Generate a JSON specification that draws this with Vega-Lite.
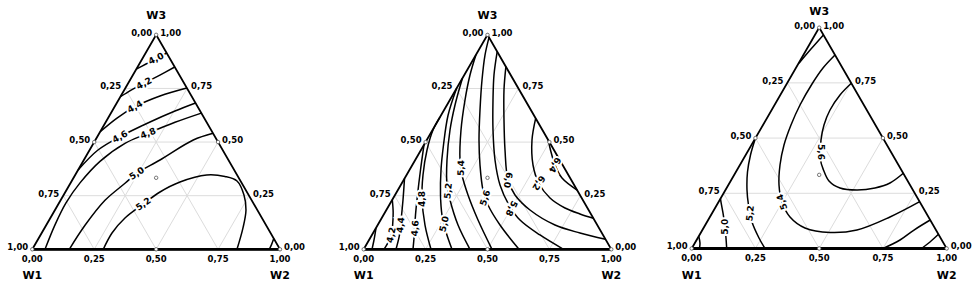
{
  "$schema": "https://vega.github.io/schema/vega-lite/v6.json",
  "padding": 0,
  "spacing": 0,
  "background": "white",
  "config": {"view": {"stroke": null}, "font": "DejaVu Sans", "text": {"font": "DejaVu Sans"}},
  "datasets": {
    "frame": [{"o":0,"x":0,"y":0},{"o":1,"x":1,"y":0},{"o":2,"x":0.5,"y":0.866},{"o":3,"x":0,"y":0}],
    "base": [{"x":0,"y":0},{"x":1,"y":0}],
    "grid": [
      {"g":1,"x":0.125,"y":0.2165},{"g":1,"x":0.875,"y":0.2165},
      {"g":2,"x":0.25,"y":0.433},{"g":2,"x":0.75,"y":0.433},
      {"g":3,"x":0.375,"y":0.6495},{"g":3,"x":0.625,"y":0.6495},
      {"g":4,"x":0.25,"y":0},{"g":4,"x":0.625,"y":0.6495},
      {"g":5,"x":0.5,"y":0},{"g":5,"x":0.75,"y":0.433},
      {"g":6,"x":0.75,"y":0},{"g":6,"x":0.875,"y":0.2165},
      {"g":7,"x":0.75,"y":0},{"g":7,"x":0.375,"y":0.6495},
      {"g":8,"x":0.5,"y":0},{"g":8,"x":0.25,"y":0.433},
      {"g":9,"x":0.25,"y":0},{"g":9,"x":0.125,"y":0.2165}
    ],
    "pts": [{"x":0,"y":0},{"x":1,"y":0},{"x":0.5,"y":0.866},{"x":0.5,"y":0},{"x":0.25,"y":0.433},{"x":0.75,"y":0.433},{"x":0.5,"y":0.2887}],
    "tb": [{"x":0,"y":0,"t":"0,00"},{"x":0.25,"y":0,"t":"0,25"},{"x":0.5,"y":0,"t":"0,50"},{"x":0.75,"y":0,"t":"0,75"},{"x":1,"y":0,"t":"1,00"}],
    "tl": [{"x":0,"y":0,"t":"1,00"},{"x":0.125,"y":0.2165,"t":"0,75"},{"x":0.25,"y":0.433,"t":"0,50"},{"x":0.375,"y":0.6495,"t":"0,25"},{"x":0.5,"y":0.866,"t":"0,00"}],
    "tr": [{"x":1,"y":0,"t":"0,00"},{"x":0.875,"y":0.2165,"t":"0,25"},{"x":0.75,"y":0.433,"t":"0,50"},{"x":0.625,"y":0.6495,"t":"0,75"},{"x":0.5,"y":0.866,"t":"1,00"}],
    "wb": [{"x":0,"y":0,"t":"W1"},{"x":1,"y":0,"t":"W2"}],
    "wt": [{"x":0.5,"y":0.866,"t":"W3"}],
    "c1": [
      {"c":"4,0","o":0,"x":0.4197,"y":0.7271},{"c":"4,0","o":1,"x":0.459,"y":0.748},{"c":"4,0","o":2,"x":0.4994,"y":0.7703},{"c":"4,0","o":3,"x":0.5425,"y":0.7924},
      {"c":"4,2","o":0,"x":0.3557,"y":0.6161},{"c":"4,2","o":1,"x":0.4025,"y":0.645},{"c":"4,2","o":2,"x":0.4509,"y":0.67},{"c":"4,2","o":3,"x":0.5151,"y":0.7035},{"c":"4,2","o":4,"x":0.575,"y":0.736},
      {"c":"4,4","o":0,"x":0.2741,"y":0.4748},{"c":"4,4","o":1,"x":0.342,"y":0.53},{"c":"4,4","o":2,"x":0.4146,"y":0.5757},{"c":"4,4","o":3,"x":0.5155,"y":0.6189},{"c":"4,4","o":4,"x":0.624,"y":0.6512},
      {"c":"4,6","o":0,"x":0.1849,"y":0.3201},{"c":"4,6","o":1,"x":0.2652,"y":0.4008},{"c":"4,6","o":2,"x":0.3541,"y":0.4546},{"c":"4,6","o":3,"x":0.4752,"y":0.5139},{"c":"4,6","o":4,"x":0.5761,"y":0.5583},{"c":"4,6","o":5,"x":0.659,"y":0.5906},
      {"c":"4,8","o":0,"x":0.0513,"y":0},{"c":"4,8","o":1,"x":0.0916,"y":0.0985},{"c":"4,8","o":2,"x":0.136,"y":0.1873},{"c":"4,8","o":3,"x":0.1926,"y":0.2681},{"c":"4,8","o":4,"x":0.2733,"y":0.3552},{"c":"4,8","o":5,"x":0.3742,"y":0.4279},{"c":"4,8","o":6,"x":0.4671,"y":0.4683},{"c":"4,8","o":7,"x":0.5761,"y":0.5127},{"c":"4,8","o":8,"x":0.6825,"y":0.5499},
      {"c":"5,0","o":0,"x":0.1494,"y":0},{"c":"5,0","o":1,"x":0.2128,"y":0.0969},{"c":"5,0","o":2,"x":0.2935,"y":0.1978},{"c":"5,0","o":3,"x":0.3743,"y":0.2665},{"c":"5,0","o":4,"x":0.4215,"y":0.3068},{"c":"5,0","o":5,"x":0.5155,"y":0.3605},{"c":"5,0","o":6,"x":0.6499,"y":0.4412},{"c":"5,0","o":7,"x":0.7296,"y":0.4683},
      {"c":"5,2","o":0,"x":0.2866,"y":0},{"c":"5,2","o":1,"x":0.3218,"y":0.0658},{"c":"5,2","o":2,"x":0.3742,"y":0.1264},{"c":"5,2","o":3,"x":0.4481,"y":0.1829},{"c":"5,2","o":4,"x":0.5155,"y":0.2314},{"c":"5,2","o":5,"x":0.5963,"y":0.2717},{"c":"5,2","o":6,"x":0.7041,"y":0.2999},{"c":"5,2","o":7,"x":0.7779,"y":0.2939},{"c":"5,2","o":8,"x":0.8264,"y":0.2757},{"c":"5,2","o":9,"x":0.8546,"y":0.2192},{"c":"5,2","o":10,"x":0.8627,"y":0.1587},{"c":"5,2","o":11,"x":0.8506,"y":0.0864},{"c":"5,2","o":12,"x":0.8264,"y":0},
      {"c":"5,2b","o":0,"x":0.9568,"y":0},{"c":"5,2b","o":1,"x":0.9662,"y":0.02},{"c":"5,2b","o":2,"x":0.9749,"y":0.0434}
    ],
    "l1": [
      {"t":"4,0","x":0.4994,"y":0.7703,"a":-27},
      {"t":"4,2","x":0.4509,"y":0.67,"a":-28},
      {"t":"4,4","x":0.4146,"y":0.5757,"a":-30},
      {"t":"4,6","x":0.3541,"y":0.4546,"a":-30},
      {"t":"4,8","x":0.4671,"y":0.4683,"a":-22},
      {"t":"5,0","x":0.4215,"y":0.3068,"a":-33},
      {"t":"5,2","x":0.4481,"y":0.1829,"a":-35}
    ],
    "c2": [
      {"c":"4,0","o":0,"x":0.0335,"y":0},{"c":"4,0","o":1,"x":0.0416,"y":0.0376},{"c":"4,0","o":2,"x":0.0497,"y":0.086},
      {"c":"4,2","o":0,"x":0.082,"y":0},{"c":"4,2","o":1,"x":0.1,"y":0.03},{"c":"4,2","o":2,"x":0.1115,"y":0.0578},{"c":"4,2","o":3,"x":0.117,"y":0.1},{"c":"4,2","o":4,"x":0.119,"y":0.15},{"c":"4,2","o":5,"x":0.1155,"y":0.2},
      {"c":"4,4","o":0,"x":0.1305,"y":0},{"c":"4,4","o":1,"x":0.1446,"y":0.0578},{"c":"4,4","o":2,"x":0.1506,"y":0.1143},{"c":"4,4","o":3,"x":0.1587,"y":0.1991},{"c":"4,4","o":4,"x":0.1648,"y":0.2855},
      {"c":"4,6","o":0,"x":0.1991,"y":0},{"c":"4,6","o":1,"x":0.2052,"y":0.0699},{"c":"4,6","o":2,"x":0.2092,"y":0.1385},{"c":"4,6","o":3,"x":0.2173,"y":0.2193},{"c":"4,6","o":4,"x":0.2294,"y":0.3203},{"c":"4,6","o":5,"x":0.2435,"y":0.4216},
      {"c":"4,8","o":0,"x":0.2718,"y":0},{"c":"4,8","o":1,"x":0.2476,"y":0.0981},{"c":"4,8","o":2,"x":0.2355,"y":0.2031},{"c":"4,8","o":3,"x":0.2395,"y":0.3001},{"c":"4,8","o":4,"x":0.2557,"y":0.401},{"c":"4,8","o":5,"x":0.2799,"y":0.4818},{"c":"4,8","o":6,"x":0.3082,"y":0.5339},
      {"c":"5,0","o":0,"x":0.3566,"y":0},{"c":"5,0","o":1,"x":0.3324,"y":0.0699},{"c":"5,0","o":2,"x":0.3162,"y":0.1385},{"c":"5,0","o":3,"x":0.3102,"y":0.2193},{"c":"5,0","o":4,"x":0.3122,"y":0.3203},{"c":"5,0","o":5,"x":0.3223,"y":0.4213},{"c":"5,0","o":6,"x":0.3405,"y":0.5404},{"c":"5,0","o":7,"x":0.3749,"y":0.6494},
      {"c":"5,2","o":0,"x":0.4293,"y":0},{"c":"5,2","o":1,"x":0.3809,"y":0.0981},{"c":"5,2","o":2,"x":0.3486,"y":0.1991},{"c":"5,2","o":3,"x":0.3364,"y":0.2597},{"c":"5,2","o":4,"x":0.3364,"y":0.3607},{"c":"5,2","o":5,"x":0.3486,"y":0.4818},{"c":"5,2","o":6,"x":0.3688,"y":0.5828},{"c":"5,2","o":7,"x":0.3987,"y":0.6906},
      {"c":"5,4","o":0,"x":0.5182,"y":0},{"c":"5,4","o":1,"x":0.4617,"y":0.1183},{"c":"5,4","o":2,"x":0.4213,"y":0.2193},{"c":"5,4","o":3,"x":0.397,"y":0.3001},{"c":"5,4","o":4,"x":0.3889,"y":0.3607},{"c":"5,4","o":5,"x":0.393,"y":0.4818},{"c":"5,4","o":6,"x":0.4091,"y":0.603},{"c":"5,4","o":7,"x":0.4293,"y":0.704},{"c":"5,4","o":8,"x":0.4531,"y":0.7847},
      {"c":"5,6","o":0,"x":0.6272,"y":0},{"c":"5,6","o":1,"x":0.5505,"y":0.0981},{"c":"5,6","o":2,"x":0.502,"y":0.1789},{"c":"5,6","o":3,"x":0.4818,"y":0.2395},{"c":"5,6","o":4,"x":0.4697,"y":0.3405},{"c":"5,6","o":5,"x":0.4657,"y":0.4414},{"c":"5,6","o":6,"x":0.4697,"y":0.5626},{"c":"5,6","o":7,"x":0.4778,"y":0.6838},{"c":"5,6","o":8,"x":0.4899,"y":0.7847},{"c":"5,6","o":9,"x":0.506,"y":0.855},
      {"c":"5,8","o":0,"x":0.807,"y":0},{"c":"5,8","o":1,"x":0.712,"y":0.0578},{"c":"5,8","o":2,"x":0.6313,"y":0.1183},{"c":"5,8","o":3,"x":0.5868,"y":0.1789},{"c":"5,8","o":4,"x":0.5505,"y":0.2597},{"c":"5,8","o":5,"x":0.5303,"y":0.3607},{"c":"5,8","o":6,"x":0.5222,"y":0.4818},{"c":"5,8","o":7,"x":0.5222,"y":0.603},{"c":"5,8","o":8,"x":0.5262,"y":0.704},{"c":"5,8","o":9,"x":0.5392,"y":0.7981},
      {"c":"6,0","o":0,"x":0.9766,"y":0.0404},{"c":"6,0","o":1,"x":0.8736,"y":0.0658},{"c":"6,0","o":2,"x":0.7726,"y":0.0981},{"c":"6,0","o":3,"x":0.6716,"y":0.1587},{"c":"6,0","o":4,"x":0.6111,"y":0.2193},{"c":"6,0","o":5,"x":0.5828,"y":0.2799},{"c":"6,0","o":6,"x":0.5707,"y":0.401},{"c":"6,0","o":7,"x":0.5666,"y":0.5222},{"c":"6,0","o":8,"x":0.5666,"y":0.6434},{"c":"6,0","o":9,"x":0.5743,"y":0.7375},
      {"c":"6,2","o":0,"x":0.6945,"y":0.5291},{"c":"6,2","o":1,"x":0.6797,"y":0.4414},{"c":"6,2","o":2,"x":0.6838,"y":0.3405},{"c":"6,2","o":3,"x":0.7068,"y":0.2678},{"c":"6,2","o":4,"x":0.7524,"y":0.2072},{"c":"6,2","o":5,"x":0.813,"y":0.1668},{"c":"6,2","o":6,"x":0.8736,"y":0.1426},{"c":"6,2","o":7,"x":0.9277,"y":0.1252},
      {"c":"6,4","o":0,"x":0.7452,"y":0.4414},{"c":"6,4","o":1,"x":0.7565,"y":0.393},{"c":"6,4","o":2,"x":0.7726,"y":0.3405},{"c":"6,4","o":3,"x":0.8009,"y":0.288},{"c":"6,4","o":4,"x":0.8619,"y":0.2395}
    ],
    "l2": [
      {"t":"4,2","x":0.1115,"y":0.0578,"a":-78},
      {"t":"4,4","x":0.149,"y":0.0981,"a":-84},
      {"t":"4,6","x":0.2075,"y":0.0848,"a":-86},
      {"t":"4,8","x":0.2355,"y":0.2031,"a":-90},
      {"t":"5,0","x":0.325,"y":0.1022,"a":-77},
      {"t":"5,2","x":0.3413,"y":0.2355,"a":-84},
      {"t":"5,4","x":0.393,"y":0.3283,"a":-88},
      {"t":"5,6","x":0.4899,"y":0.2072,"a":-72},
      {"t":"5,8","x":0.597,"y":0.165,"a":115},
      {"t":"6,0","x":0.5828,"y":0.2799,"a":100},
      {"t":"6,2","x":0.7068,"y":0.2678,"a":122},
      {"t":"6,4","x":0.7726,"y":0.3405,"a":118}
    ],
    "c3": [
      {"c":"5,2a","o":0,"x":0.4208,"y":0.7267},{"c":"5,2a","o":1,"x":0.4686,"y":0.7829},{"c":"5,2a","o":2,"x":0.5165,"y":0.8373},
      {"c":"5,0","o":0,"x":0.1373,"y":0},{"c":"5,0","o":1,"x":0.1345,"y":0.0412},{"c":"5,0","o":2,"x":0.1306,"y":0.0855},{"c":"5,0","o":3,"x":0.1227,"y":0.1392},{"c":"5,0","o":4,"x":0.1169,"y":0.1706},{"c":"5,0","o":5,"x":0.1128,"y":0.1953},
      {"c":"4,8","o":0,"x":0.0306,"y":0},{"c":"4,8","o":1,"x":0.0325,"y":0.0216},{"c":"4,8","o":2,"x":0.0276,"y":0.0478},
      {"c":"5,2","o":0,"x":0.2875,"y":0},{"c":"5,2","o":1,"x":0.2639,"y":0.0412},{"c":"5,2","o":2,"x":0.2365,"y":0.1039},{"c":"5,2","o":3,"x":0.2227,"y":0.1706},{"c":"5,2","o":4,"x":0.2169,"y":0.2294},{"c":"5,2","o":5,"x":0.2188,"y":0.3},{"c":"5,2","o":6,"x":0.2306,"y":0.3667},{"c":"5,2","o":7,"x":0.2502,"y":0.4333},
      {"c":"5,4","o":0,"x":0.562,"y":0.7588},{"c":"5,4","o":1,"x":0.5149,"y":0.7078},{"c":"5,4","o":2,"x":0.4718,"y":0.6451},{"c":"5,4","o":3,"x":0.4247,"y":0.5627},{"c":"5,4","o":4,"x":0.3894,"y":0.4843},{"c":"5,4","o":5,"x":0.362,"y":0.4059},{"c":"5,4","o":6,"x":0.3463,"y":0.3275},{"c":"5,4","o":7,"x":0.3424,"y":0.249},{"c":"5,4","o":8,"x":0.3541,"y":0.1824},{"c":"5,4","o":9,"x":0.3855,"y":0.1235},{"c":"5,4","o":10,"x":0.4443,"y":0.0804},{"c":"5,4","o":11,"x":0.5424,"y":0.0627},{"c":"5,4","o":12,"x":0.6482,"y":0.0725},{"c":"5,4","o":13,"x":0.7776,"y":0.1235},{"c":"5,4","o":14,"x":0.8941,"y":0.1835},
      {"c":"5,6","o":0,"x":0.6259,"y":0.6478},{"c":"5,6","o":1,"x":0.5816,"y":0.602},{"c":"5,6","o":2,"x":0.5424,"y":0.5431},{"c":"5,6","o":3,"x":0.5188,"y":0.4843},{"c":"5,6","o":4,"x":0.5071,"y":0.4255},{"c":"5,6","o":5,"x":0.5051,"y":0.3471},{"c":"5,6","o":6,"x":0.5169,"y":0.3078},{"c":"5,6","o":7,"x":0.5384,"y":0.2647},{"c":"5,6","o":8,"x":0.5816,"y":0.2373},{"c":"5,6","o":9,"x":0.6482,"y":0.2294},{"c":"5,6","o":10,"x":0.7188,"y":0.2373},{"c":"5,6","o":11,"x":0.7776,"y":0.2569},{"c":"5,6","o":12,"x":0.8298,"y":0.2949},
      {"c":"5,2c","o":0,"x":0.7502,"y":0},{"c":"5,2c","o":1,"x":0.8169,"y":0.0333},{"c":"5,2c","o":2,"x":0.8718,"y":0.0725},{"c":"5,2c","o":3,"x":0.9353,"y":0.1118},
      {"c":"5,0c","o":0,"x":0.9012,"y":0},{"c":"5,0c","o":1,"x":0.9345,"y":0.0255},{"c":"5,0c","o":2,"x":0.9678,"y":0.0557}
    ],
    "l3": [
      {"t":"5,0","x":0.1306,"y":0.0855,"a":-90},
      {"t":"5,2","x":0.2286,"y":0.138,"a":-84},
      {"t":"5,4","x":0.3541,"y":0.1824,"a":-110},
      {"t":"5,6","x":0.506,"y":0.3784,"a":90}
    ]
  },
  "hconcat": [
    {
      "width": 330, "height": 291,
      "encoding": {
        "x": {"field": "x", "type": "quantitative", "axis": null, "scale": {"domain": [-0.1304, 1.2019], "nice": false, "zero": false}},
        "y": {"field": "y", "type": "quantitative", "axis": null, "scale": {"domain": [-0.1683, 1.0065], "nice": false, "zero": false}}
      },
      "layer": [
        {"data": {"name": "grid"}, "mark": {"type": "line", "color": "#dcdcdc", "strokeWidth": 1}, "encoding": {"detail": {"field": "g"}}},
        {"data": {"name": "c1"}, "mark": {"type": "line", "color": "black", "strokeWidth": 1.5, "interpolate": "catmull-rom"}, "encoding": {"detail": {"field": "c"}, "order": {"field": "o"}}},
        {"data": {"name": "frame"}, "mark": {"type": "line", "color": "black", "strokeWidth": 1.8}, "encoding": {"order": {"field": "o"}}},
        {"data": {"name": "base"}, "mark": {"type": "line", "color": "black", "strokeWidth": 2.8}, "encoding": {}},
        {"data": {"name": "pts"}, "mark": {"type": "point", "shape": "circle", "filled": true, "fill": "white", "stroke": "#555", "strokeWidth": 0.8, "size": 12, "opacity": 1}},
        {"data": {"name": "l1"}, "mark": {"type": "text", "fontSize": 9, "fontWeight": "bold", "stroke": "white", "strokeWidth": 4, "color": "white", "baseline": "middle"}, "encoding": {"text": {"field": "t"}, "angle": {"field": "a", "type": "quantitative", "scale": null}}},
        {"data": {"name": "l1"}, "mark": {"type": "text", "fontSize": 9, "fontWeight": "bold", "color": "black", "baseline": "middle"}, "encoding": {"text": {"field": "t"}, "angle": {"field": "a", "type": "quantitative", "scale": null}}},
        {"data": {"name": "tb"}, "mark": {"type": "text", "fontSize": 8.5, "fontWeight": "bold", "color": "black", "align": "center", "baseline": "middle", "dy": 10}, "encoding": {"text": {"field": "t"}}},
        {"data": {"name": "tl"}, "mark": {"type": "text", "fontSize": 8.5, "fontWeight": "bold", "color": "black", "align": "right", "baseline": "middle", "dx": -4, "dy": -2}, "encoding": {"text": {"field": "t"}}},
        {"data": {"name": "tr"}, "mark": {"type": "text", "fontSize": 8.5, "fontWeight": "bold", "color": "black", "align": "left", "baseline": "middle", "dx": 4, "dy": -2}, "encoding": {"text": {"field": "t"}}},
        {"data": {"name": "wb"}, "mark": {"type": "text", "fontSize": 11, "fontWeight": "bold", "color": "black", "align": "center", "baseline": "middle", "dy": 27}, "encoding": {"text": {"field": "t"}}},
        {"data": {"name": "wt"}, "mark": {"type": "text", "fontSize": 11, "fontWeight": "bold", "color": "black", "align": "center", "baseline": "middle", "dy": -19}, "encoding": {"text": {"field": "t"}}}
      ]
    },
    {
      "width": 325, "height": 291,
      "encoding": {
        "x": {"field": "x", "type": "quantitative", "axis": null, "scale": {"domain": [-0.1361, 1.1765], "nice": false, "zero": false}},
        "y": {"field": "y", "type": "quantitative", "axis": null, "scale": {"domain": [-0.1684, 1.0069], "nice": false, "zero": false}}
      },
      "layer": [
        {"data": {"name": "grid"}, "mark": {"type": "line", "color": "#dcdcdc", "strokeWidth": 1}, "encoding": {"detail": {"field": "g"}}},
        {"data": {"name": "c2"}, "mark": {"type": "line", "color": "black", "strokeWidth": 1.5, "interpolate": "catmull-rom"}, "encoding": {"detail": {"field": "c"}, "order": {"field": "o"}}},
        {"data": {"name": "frame"}, "mark": {"type": "line", "color": "black", "strokeWidth": 1.8}, "encoding": {"order": {"field": "o"}}},
        {"data": {"name": "base"}, "mark": {"type": "line", "color": "black", "strokeWidth": 2.8}, "encoding": {}},
        {"data": {"name": "pts"}, "mark": {"type": "point", "shape": "circle", "filled": true, "fill": "white", "stroke": "#555", "strokeWidth": 0.8, "size": 12, "opacity": 1}},
        {"data": {"name": "l2"}, "mark": {"type": "text", "fontSize": 9, "fontWeight": "bold", "stroke": "white", "strokeWidth": 4, "color": "white", "baseline": "middle"}, "encoding": {"text": {"field": "t"}, "angle": {"field": "a", "type": "quantitative", "scale": null}}},
        {"data": {"name": "l2"}, "mark": {"type": "text", "fontSize": 9, "fontWeight": "bold", "color": "black", "baseline": "middle"}, "encoding": {"text": {"field": "t"}, "angle": {"field": "a", "type": "quantitative", "scale": null}}},
        {"data": {"name": "tb"}, "mark": {"type": "text", "fontSize": 8.5, "fontWeight": "bold", "color": "black", "align": "center", "baseline": "middle", "dy": 10}, "encoding": {"text": {"field": "t"}}},
        {"data": {"name": "tl"}, "mark": {"type": "text", "fontSize": 8.5, "fontWeight": "bold", "color": "black", "align": "right", "baseline": "middle", "dx": -4, "dy": -2}, "encoding": {"text": {"field": "t"}}},
        {"data": {"name": "tr"}, "mark": {"type": "text", "fontSize": 8.5, "fontWeight": "bold", "color": "black", "align": "left", "baseline": "middle", "dx": 4, "dy": -2}, "encoding": {"text": {"field": "t"}}},
        {"data": {"name": "wb"}, "mark": {"type": "text", "fontSize": 11, "fontWeight": "bold", "color": "black", "align": "center", "baseline": "middle", "dy": 27}, "encoding": {"text": {"field": "t"}}},
        {"data": {"name": "wt"}, "mark": {"type": "text", "fontSize": 11, "fontWeight": "bold", "color": "black", "align": "center", "baseline": "middle", "dy": -19}, "encoding": {"text": {"field": "t"}}}
      ]
    },
    {
      "width": 324, "height": 291,
      "encoding": {
        "x": {"field": "x", "type": "quantitative", "axis": null, "scale": {"domain": [-0.1439, 1.1267], "nice": false, "zero": false}},
        "y": {"field": "y", "type": "quantitative", "axis": null, "scale": {"domain": [-0.1667, 0.9745], "nice": false, "zero": false}}
      },
      "layer": [
        {"data": {"name": "grid"}, "mark": {"type": "line", "color": "#dcdcdc", "strokeWidth": 1}, "encoding": {"detail": {"field": "g"}}},
        {"data": {"name": "c3"}, "mark": {"type": "line", "color": "black", "strokeWidth": 1.5, "interpolate": "catmull-rom"}, "encoding": {"detail": {"field": "c"}, "order": {"field": "o"}}},
        {"data": {"name": "frame"}, "mark": {"type": "line", "color": "black", "strokeWidth": 1.8}, "encoding": {"order": {"field": "o"}}},
        {"data": {"name": "base"}, "mark": {"type": "line", "color": "black", "strokeWidth": 2.8}, "encoding": {}},
        {"data": {"name": "pts"}, "mark": {"type": "point", "shape": "circle", "filled": true, "fill": "white", "stroke": "#555", "strokeWidth": 0.8, "size": 12, "opacity": 1}},
        {"data": {"name": "l3"}, "mark": {"type": "text", "fontSize": 9, "fontWeight": "bold", "stroke": "white", "strokeWidth": 4, "color": "white", "baseline": "middle"}, "encoding": {"text": {"field": "t"}, "angle": {"field": "a", "type": "quantitative", "scale": null}}},
        {"data": {"name": "l3"}, "mark": {"type": "text", "fontSize": 9, "fontWeight": "bold", "color": "black", "baseline": "middle"}, "encoding": {"text": {"field": "t"}, "angle": {"field": "a", "type": "quantitative", "scale": null}}},
        {"data": {"name": "tb"}, "mark": {"type": "text", "fontSize": 8.5, "fontWeight": "bold", "color": "black", "align": "center", "baseline": "middle", "dy": 10}, "encoding": {"text": {"field": "t"}}},
        {"data": {"name": "tl"}, "mark": {"type": "text", "fontSize": 8.5, "fontWeight": "bold", "color": "black", "align": "right", "baseline": "middle", "dx": -4, "dy": -2}, "encoding": {"text": {"field": "t"}}},
        {"data": {"name": "tr"}, "mark": {"type": "text", "fontSize": 8.5, "fontWeight": "bold", "color": "black", "align": "left", "baseline": "middle", "dx": 4, "dy": -2}, "encoding": {"text": {"field": "t"}}},
        {"data": {"name": "wb"}, "mark": {"type": "text", "fontSize": 11, "fontWeight": "bold", "color": "black", "align": "center", "baseline": "middle", "dy": 28}, "encoding": {"text": {"field": "t"}}},
        {"data": {"name": "wt"}, "mark": {"type": "text", "fontSize": 11, "fontWeight": "bold", "color": "black", "align": "center", "baseline": "middle", "dy": -16}, "encoding": {"text": {"field": "t"}}}
      ]
    }
  ]
}
